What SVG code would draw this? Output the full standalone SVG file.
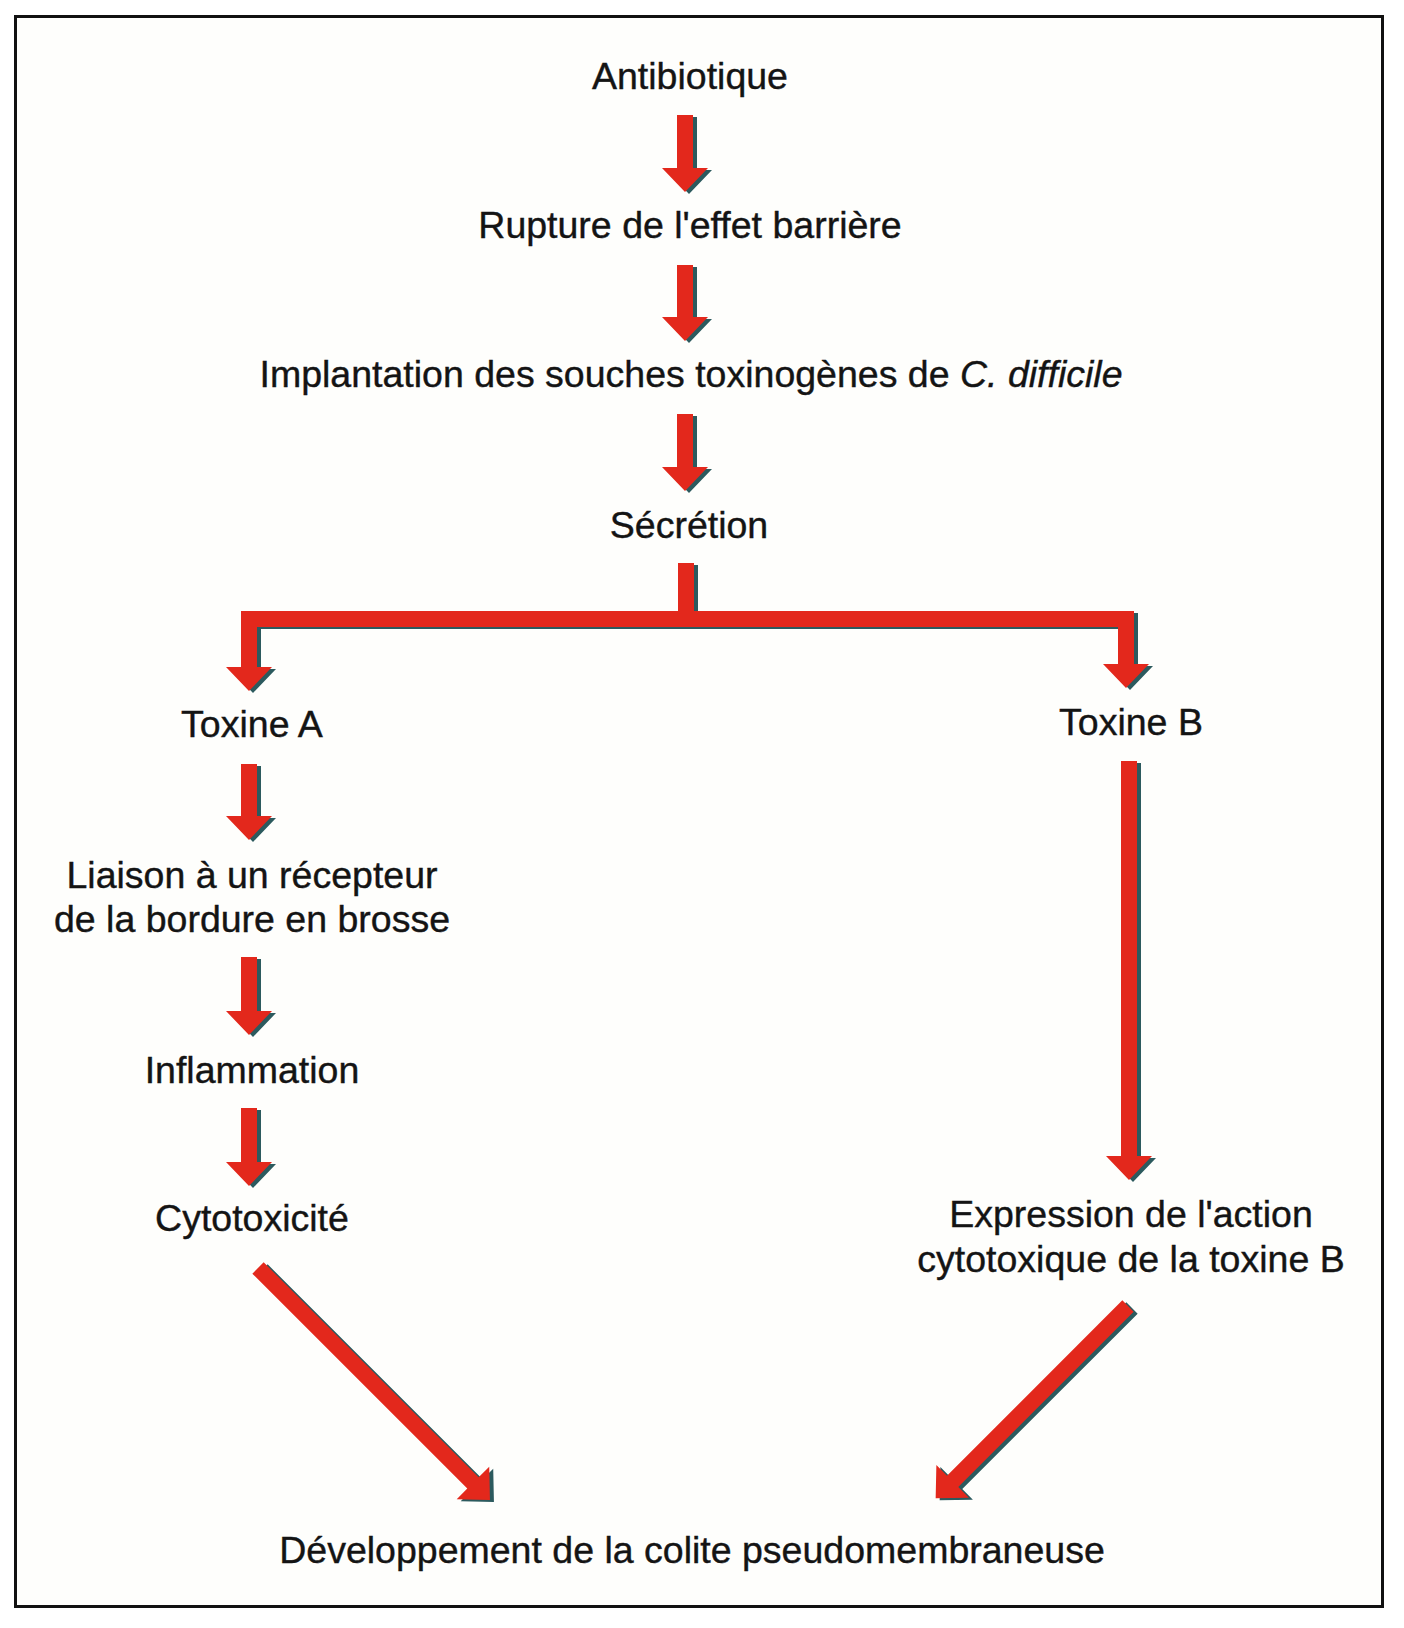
<svg xmlns="http://www.w3.org/2000/svg" width="1404" height="1628" viewBox="0 0 1404 1628">
<style>
.t{font-family:"Liberation Sans",Arial,Helvetica,sans-serif;font-size:37.5px;fill:#141414;stroke:#141414;stroke-width:0.4px;text-anchor:middle}
.ar{fill:#e3281c}
.sh{fill:#2c5a5e}
</style>
<rect x="0" y="0" width="1404" height="1628" fill="#ffffff"/>
<rect x="15.5" y="16.5" width="1367" height="1590" fill="#fefefc" stroke="#111" stroke-width="3"/>
<g id="connectors">
  <g id="c1"><path class="sh" transform="translate(4,2)" d="M677,115 H693 V168 H708 L685,192 L662,168 H677 Z"/><path class="ar" d="M677,115 H693 V168 H708 L685,192 L662,168 H677 Z"/></g>
  <g id="c2"><path class="sh" transform="translate(4,2)" d="M677,265 H693 V317 H708 L685,341 L662,317 H677 Z"/><path class="ar" d="M677,265 H693 V317 H708 L685,341 L662,317 H677 Z"/></g>
  <g id="c3"><path class="sh" transform="translate(4,2)" d="M677,414 H693 V467 H708 L685,491 L662,467 H677 Z"/><path class="ar" d="M677,414 H693 V467 H708 L685,491 L662,467 H677 Z"/></g>
  <g id="c4"><path class="sh" transform="translate(4,2)" d="M678,563 H694 V611 H1134 V664 H1149 L1126,688 L1103,664 H1118 V627 H257 V667 H272 L249,691 L226,667 H241 V611 H678 Z"/><path class="ar" d="M678,563 H694 V611 H1134 V664 H1149 L1126,688 L1103,664 H1118 V627 H257 V667 H272 L249,691 L226,667 H241 V611 H678 Z"/></g>
  <g id="c5"><path class="sh" transform="translate(4,2)" d="M241,764 H257 V816 H272 L249,840 L226,816 H241 Z"/><path class="ar" d="M241,764 H257 V816 H272 L249,840 L226,816 H241 Z"/></g>
  <g id="c6"><path class="sh" transform="translate(4,2)" d="M241,957 H257 V1011 H272 L249,1035 L226,1011 H241 Z"/><path class="ar" d="M241,957 H257 V1011 H272 L249,1035 L226,1011 H241 Z"/></g>
  <g id="c7"><path class="sh" transform="translate(4,2)" d="M241,1108 H257 V1162 H272 L249,1186 L226,1162 H241 Z"/><path class="ar" d="M241,1108 H257 V1162 H272 L249,1186 L226,1162 H241 Z"/></g>
  <g id="c8"><path class="sh" transform="translate(4,2)" d="M1121,761 H1137 V1156 H1152 L1129,1180 L1106,1156 H1121 Z"/><path class="ar" d="M1121,761 H1137 V1156 H1152 L1129,1180 L1106,1156 H1121 Z"/></g>
  <g id="c9"><path class="sh" transform="translate(262,1270) rotate(-45)" d="M-8,0 H8 V304 H23 L0,328 L-23,304 H-8 Z"/><path class="ar" transform="translate(258,1268) rotate(-45)" d="M-8,0 H8 V304 H23 L0,328 L-23,304 H-8 Z"/></g>
  <g id="c10"><path class="sh" transform="translate(1132,1308) rotate(45)" d="M-8,0 H8 V248 H23 L0,272 L-23,248 H-8 Z"/><path class="ar" transform="translate(1128,1306) rotate(45)" d="M-8,0 H8 V248 H23 L0,272 L-23,248 H-8 Z"/></g>
</g>
<g id="n1"><text class="t" x="690" y="89">Antibiotique</text></g>
<g id="n2"><text class="t" x="690" y="238">Rupture de l'effet barrière</text></g>
<g id="n3"><text class="t" x="691" y="387">Implantation des souches toxinogènes de <tspan font-style="italic">C. difficile</tspan></text></g>
<g id="n4"><text class="t" x="689" y="538">Sécrétion</text></g>
<g id="n5"><text class="t" x="252" y="737">Toxine A</text></g>
<g id="n6"><text class="t" x="1131" y="735">Toxine B</text></g>
<g id="n7"><text class="t" x="252" y="888">Liaison à un récepteur</text><text class="t" x="252" y="932">de la bordure en brosse</text></g>
<g id="n8"><text class="t" x="252" y="1083">Inflammation</text></g>
<g id="n9"><text class="t" x="252" y="1231">Cytotoxicité</text></g>
<g id="n10"><text class="t" x="1131" y="1227">Expression de l'action</text><text class="t" x="1131" y="1272">cytotoxique de la toxine B</text></g>
<g id="n11"><text class="t" x="692" y="1563">Développement de la colite pseudomembraneuse</text></g>
</svg>
